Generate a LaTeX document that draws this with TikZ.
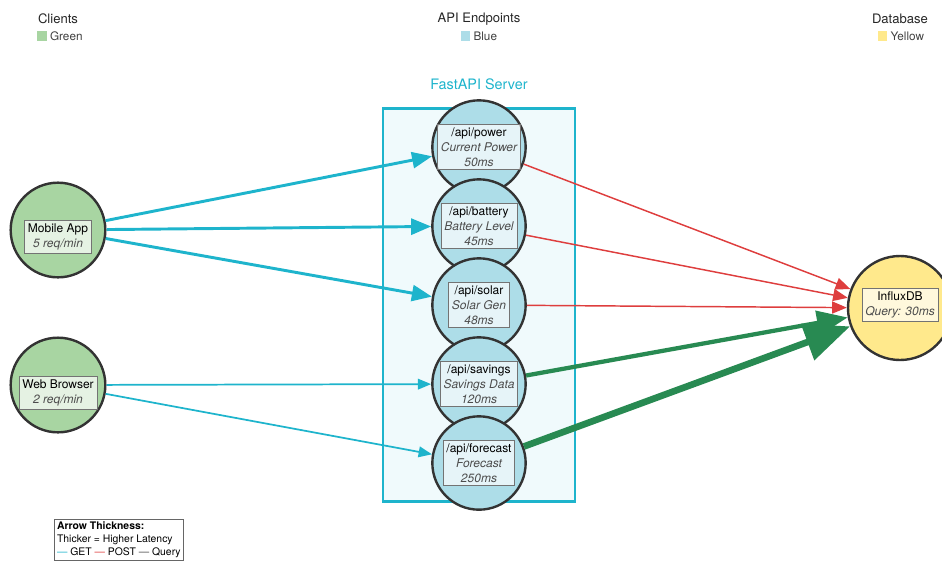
\documentclass[tikz,border=0pt]{standalone}
\usepackage{fontspec}
\setmainfont{TeX Gyre Heros}
\usepackage{xcolor}
\usepackage{tikz}
\usetikzlibrary{shapes, arrows.meta, positioning, calc}
\definecolor{ClientGreen}{RGB}{168, 213, 162}
\definecolor{EndpointBlue}{RGB}{173, 221, 232}
\definecolor{DatabaseYellow}{RGB}{255, 233, 140}
\definecolor{GetCyan}{RGB}{30, 180, 204}
\definecolor{PostRed}{RGB}{222, 62, 62}
\definecolor{QueryGreen}{RGB}{40, 138, 82}
\definecolor{ServerFill}{RGB}{240, 250, 252}
\definecolor{NodeBorder}{RGB}{51, 51, 51}
\newcommand{\epinfo}[1]{{\itshape\color{black!70}#1}}

\begin{document}
\begin{tikzpicture}[
        x=0.75pt, y=-0.75pt,
        client/.style={circle, draw=NodeBorder, line width=1.8pt, fill=ClientGreen, minimum size=71pt},
        endpoint/.style={circle, draw=NodeBorder, line width=1.8pt, fill=EndpointBlue, minimum size=70pt},
        database/.style={circle, draw=NodeBorder, line width=1.8pt, fill=DatabaseYellow, minimum size=78pt},
        labelbox/.style={rectangle, draw=black!55, line width=0.6pt, fill=white, fill opacity=0.7, text opacity=1, align=center, inner sep=2.5pt, font=\fontsize{9}{11.25}\selectfont},
        heading/.style={font=\fontsize{9.8}{11}\selectfont, text=black!85, inner sep=0pt},
        key/.style={font=\fontsize{8.8}{10}\selectfont, text=black!75, inner sep=0pt},
        get/.style={draw=GetCyan, fill=GetCyan},
        post/.style={draw=PostRed, fill=PostRed},
        query/.style={draw=QueryGreen, fill=QueryGreen}
    ]

    \useasboundingbox (0,0) rectangle (942,562);

    \node[heading] (clients) at (58,19) {Clients};
    \node[key] (clients-key) at (60,36) {\textcolor{ClientGreen}{\rule{7pt}{7pt}} Green};
    \node[heading] (endpoints) at (479,19) {API Endpoints};
    \node[key] (endpoints-key) at (479,36) {\textcolor{EndpointBlue}{\rule{7pt}{7pt}} Blue};
    \node[heading] (database) at (900,19) {Database};
    \node[key] (database-key) at (901,36) {\textcolor{DatabaseYellow}{\rule{7pt}{7pt}} Yellow};

    \node[draw=GetCyan, line width=1.8pt, fill=ServerFill, minimum width=144pt, minimum height=295pt] (server) at (479,305) {};
    \node[above=13pt of server, inner sep=0pt, text=GetCyan, font=\fontsize{10.8}{12}\selectfont] (server-title) {FastAPI Server};

    \foreach \ep/\y/\what/\ms in {power/147/Current Power/50ms, battery/226/Battery Level/45ms, solar/305/Solar Gen/48ms, savings/384/Savings Data/120ms, forecast/463/Forecast/250ms} {
        \node[endpoint] (\ep) at (479,\y) {};
        \node[labelbox] (\ep-label) at (\ep) {/api/\ep\\\epinfo{\what}\\\epinfo{\ms}};
    }

    \node[client] (mobile) at (58,230) {};
    \node[labelbox, yshift=-5pt] (mobile-label) at (mobile) {Mobile App\\\epinfo{5 req/min}};
    \node[client] (browser) at (58,385) {};
    \node[labelbox, yshift=-6pt] (browser-label) at (browser) {Web Browser\\\epinfo{2 req/min}};

    \node[database] (influx) at (900,308) {};
    \node[labelbox, yshift=2pt] (influx-label) at (influx) {InfluxDB\\\epinfo{Query: 30ms}};

    \draw[get, line width=2.2pt, -{Triangle[length=15pt, width=12pt]}] (mobile) -- (power);
    \draw[get, line width=2.2pt, -{Triangle[length=15pt, width=12pt]}] (mobile) -- (battery);
    \draw[get, line width=2.2pt, -{Triangle[length=15pt, width=12pt]}] (mobile) -- (solar);
    \draw[get, line width=1.3pt, -{Triangle[length=10pt, width=8pt]}] (browser) -- (savings);
    \draw[get, line width=1.3pt, -{Triangle[length=10pt, width=8pt]}] (browser) -- (forecast);

    \draw[post, line width=1.1pt, -{Triangle[length=11pt, width=9pt]}] (power) -- (influx);
    \draw[post, line width=1.1pt, -{Triangle[length=11pt, width=9pt]}] (battery) -- (influx);
    \draw[post, line width=1.1pt, -{Triangle[length=11pt, width=9pt]}] (solar) -- (influx);
    \draw[query, line width=3.2pt, -{Triangle[length=23pt, width=18pt]}] (savings) -- (influx);
    \draw[query, line width=5pt, -{Triangle[length=34pt, width=28pt]}] (forecast) -- (influx);

    \node[draw=black!60, line width=0.6pt, anchor=north west, align=left, inner sep=2pt, font=\fontsize{7.8}{9.75}\selectfont] (legend) at (54,519) {\textbf{Arrow Thickness:}\\Thicker = Higher Latency\\\textcolor{GetCyan}{---} GET \textcolor{PostRed}{---} POST \textcolor{black!70}{---} Query};

\end{tikzpicture}
\end{document}
